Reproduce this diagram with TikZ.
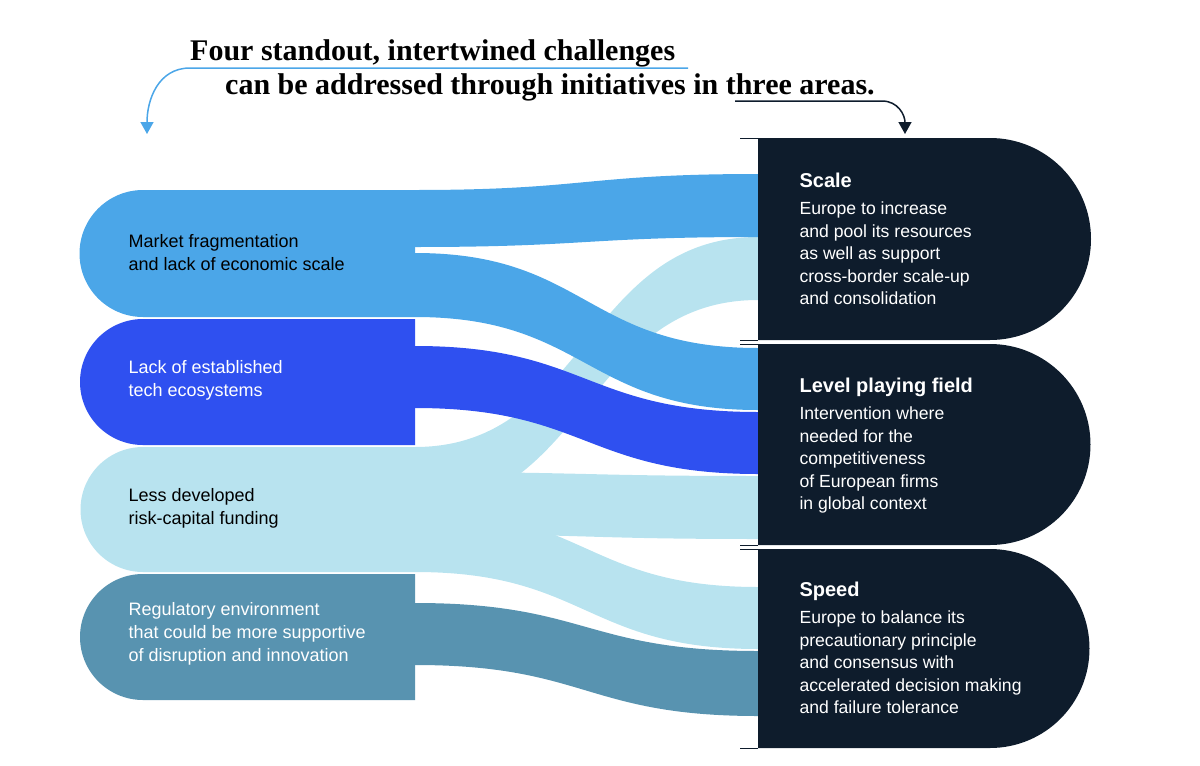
\documentclass[tikz,border=0pt]{standalone}
\usepackage{fontspec}
\setmainfont{Liberation Sans}
\newfontfamily\headfont{Liberation Serif}
\usetikzlibrary{arrows.meta}
\definecolor{midblue}{HTML}{4BA6E8}
\definecolor{brightblue}{HTML}{2F50F0}
\definecolor{paleblue}{HTML}{B8E3EF}
\definecolor{steelblue}{HTML}{5893B0}
\definecolor{navy}{HTML}{0E1C2C}
\newcommand\areatitle{\fontsize{20}{22}\selectfont\bfseries}
% band from the left boxes (x=415) to the right boxes (x=758)
\newcommand\flowband[5]{%
  \fill[#5] (415,#1) .. controls (586,#1) and (586,#3) .. (758,#3)
    -- (758,#4) .. controls (586,#4) and (586,#2) .. (415,#2) -- cycle;}
\begin{document}
\begin{tikzpicture}[
  x=1pt, y=-1pt,
  challenge/.style = {anchor=west, align=left, font=\fontsize{18}{23}\selectfont},
  area/.style      = {anchor=north west, align=left, text=white, font=\fontsize{17.6}{22.5}\selectfont},
  heading/.style   = {anchor=base west, font=\fontsize{30}{32}\selectfont\headfont\bfseries},
  pointer/.style   = {line width=1.5pt, -{Triangle[length=12pt,width=13pt]}},
  ]
  \useasboundingbox (0,0) rectangle (1200,766);
  % heading
  \node[heading, inner sep=0pt] (head1) at (190,60) {Four standout, intertwined challenges};
  \node[heading, inner sep=0pt] (head2) at (225,94) {can be addressed through initiatives in three areas.};
  \draw[pointer, midblue] (688,68) -- (190,68) .. controls (158,68) and (147,100) .. (147,134);
  \draw[pointer, navy] (735,101) -- (882,101) .. controls (898,101) and (905,115) .. (905,134);
  % left boxes
  \fill[midblue]    (415,190) -- (143,190) arc[start angle=270, end angle=90, radius=63.5] -- (415,317) -- cycle;
  \fill[brightblue] (415,319) -- (143,319) arc[start angle=270, end angle=90, radius=63] -- (415,445) -- cycle;
  \fill[paleblue]   (415,447) -- (143,447) arc[start angle=270, end angle=90, radius=62.5] -- (415,572) -- cycle;
  \fill[steelblue]  (415,574) -- (143,574) arc[start angle=270, end angle=90, radius=63] -- (415,700) -- cycle;
  % bands
  \flowband{447}{509}{237}{300}{paleblue}
  \flowband{472}{534}{476}{539}{paleblue}
  \flowband{510}{572}{587}{649}{paleblue}
  \flowband{190}{247}{174}{237}{midblue}
  \flowband{253}{317}{348}{410}{midblue}
  \flowband{346}{408}{412}{474}{brightblue}
  \flowband{603}{665}{651}{716}{steelblue}
  % right boxes
  \fill[navy] (758,138) -- (990,138) arc[start angle=-90, end angle=90, radius=101] -- (758,340) -- cycle;
  \fill[navy] (758,344) -- (990,344) arc[start angle=-90, end angle=90, radius=100.5] -- (758,545) -- cycle;
  \fill[navy] (758,549) -- (990,549) arc[start angle=-90, end angle=90, radius=99.5] -- (758,748) -- cycle;
  \foreach \y in {138,340,344,545,549,748} \draw[navy, line width=1pt] (740,\y) -- (758,\y);
  % challenge texts
  \node[challenge] (market)  at (125,253) {Market fragmentation\\and lack of economic scale};
  \node[challenge, text=white] (tech) at (125,380) {Lack of established\\tech ecosystems};
  \node[challenge] (risk)    at (125,508) {Less developed\\risk-capital funding};
  \node[challenge, text=white] (regul) at (125,634) {Regulatory environment\\that could be more supportive\\of disruption and innovation};
  % area texts
  \node[area] (scale) at (796,169) {{\areatitle Scale}\\[5pt]Europe to increase\\and pool its resources\\as well as support\\cross-border scale-up\\and consolidation};
  \node[area] (level) at (796,374) {{\areatitle Level playing field}\\[5pt]Intervention where\\needed for the\\competitiveness\\of European firms\\in global context};
  \node[area] (speed) at (796,578) {{\areatitle Speed}\\[5pt]Europe to balance its\\precautionary principle\\and consensus with\\accelerated decision making\\and failure tolerance};
\end{tikzpicture}
\end{document}
